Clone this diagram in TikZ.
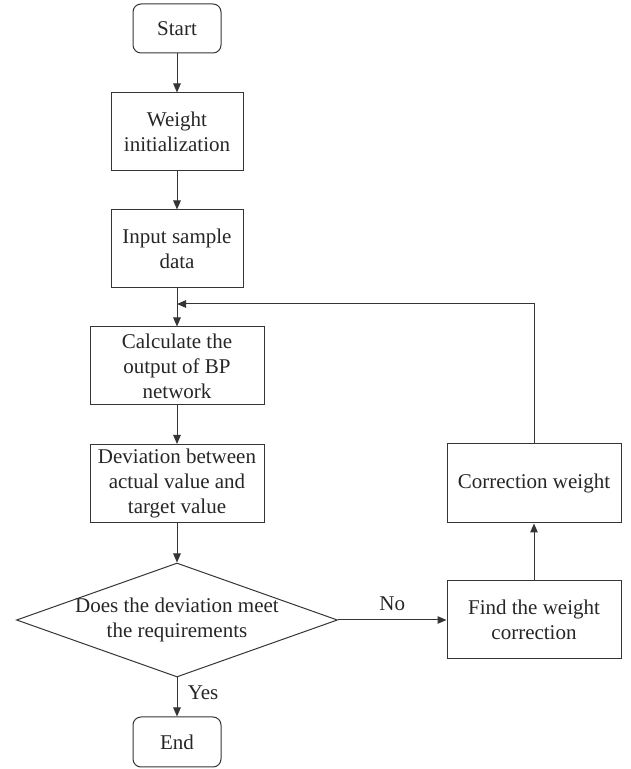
\documentclass[tikz,border=0pt]{standalone}
\usepackage{fontspec}
\setmainfont{Liberation Serif}
\usetikzlibrary{arrows.meta, shapes.geometric}
\definecolor{inkgray}{HTML}{262626}
\definecolor{linegray}{HTML}{353535}

\begin{document}
\begin{tikzpicture}[
    x=1pt, y=1pt,
    >={Triangle[length=9pt, width=7.5pt]},
    every node/.style={text=inkgray, font=\fontsize{21}{25}\selectfont},
  ]

  % Frame
  \useasboundingbox (0,0) rectangle (631,769);

  % --- Styles ---
  \tikzset{
    terminal/.style={draw=linegray, line width=1pt, rounded corners=8pt,
                     minimum width=88pt, minimum height=49pt, inner sep=0pt},
    process/.style={draw=linegray, line width=1pt, align=center,
                    minimum width=132pt, minimum height=78pt, inner sep=0pt},
    wideproc/.style={process, minimum width=174pt},
    decision/.style={diamond, draw=linegray, line width=1pt,
                     minimum width=321pt, minimum height=114pt, inner sep=0pt},
    flow/.style={->, linegray, line width=1pt},
  }

  % --- Main column ---
  \node[terminal] (start) at (177,740.5) {Start};
  \node[process] (weight) at (177,637) {Weight\\initialization};
  \node[process] (input) at (177,520) {Input sample\\data};
  \node[wideproc] (calc) at (177,403) {Calculate the\\output of BP\\network};
  \node[wideproc] (dev) at (177,285.5) {Deviation between\\actual value and\\target value};
  \node[decision] (dec) at (177,149) {};
  \node[align=center] (dectext) at (dec.center) {Does the deviation meet\\the requirements};
  \node[terminal, minimum height=50pt] (end) at (177,27) {End};

  % --- Correction branch ---
  \node[wideproc] (find) at (534,149) {Find the weight\\correction};
  \node[wideproc, minimum height=79pt] (corr) at (534,285.5) {Correction weight};
  \coordinate (join) at (177,465);

  % --- Connectors ---
  \draw[flow] (start) -- (weight);
  \draw[flow] (weight) -- (input);
  \draw[flow] (input) -- (calc);
  \draw[flow] (calc) -- (dev);
  \draw[flow] (dev) -- (dec);
  \draw[flow] (dec.south) -- (end)
    node[pos=0.4, anchor=west, xshift=7pt] {Yes};
  \draw[flow] (dec.east) -- (find)
    node[midway, above=5pt] {No};
  \draw[flow] (find) -- (corr);
  % back to the main column
  \draw[flow] (corr.north) |- (join);

\end{tikzpicture}
\end{document}
